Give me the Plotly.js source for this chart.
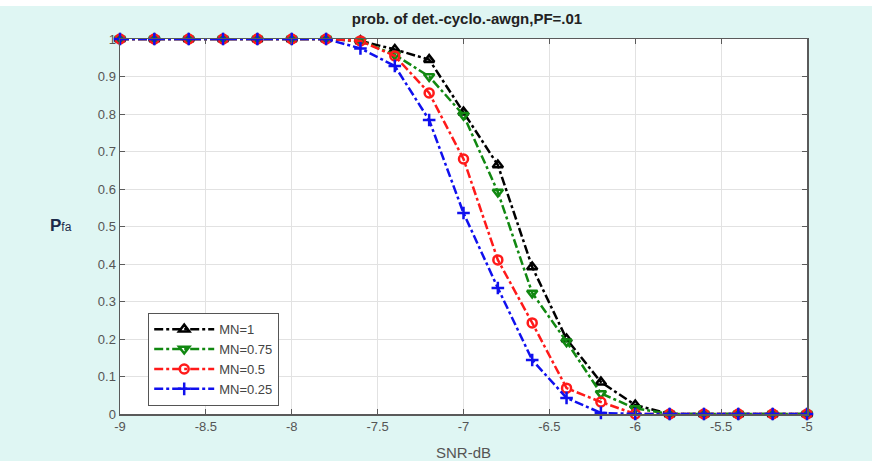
<!DOCTYPE html>
<html>
<head>
<meta charset="utf-8">
<script src="https://cdn.plot.ly/plotly-3.0.1.min.js"></script>
<style>html,body{margin:0;padding:0;background:#fff;}#chart{width:872px;height:461px;}</style>
</head>
<body>
<div id="chart"></div>
<script>
const snr = [-9, -8.8, -8.6, -8.4, -8.2, -8.0, -7.8, -7.6, -7.4, -7.2, -7.0, -6.8, -6.6, -6.4, -6.2, -6.0, -5.8, -5.6, -5.4, -5.2, -5.0];
const mn1   = [1, 1, 1, 1, 1, 1, 1, 0.995, 0.972, 0.945, 0.805, 0.664, 0.392, 0.2, 0.085, 0.024, 0, 0, 0, 0, 0];
const mn075 = [1, 1, 1, 1, 1, 1, 1, 0.995, 0.958, 0.9, 0.797, 0.592, 0.323, 0.193, 0.055, 0.015, 0, 0, 0, 0, 0];
const mn05  = [1, 1, 1, 1, 1, 1, 1, 0.995, 0.955, 0.856, 0.68, 0.411, 0.243, 0.069, 0.032, 0, 0, 0, 0, 0, 0];
const mn025 = [1, 1, 1, 1, 1, 1, 1, 0.975, 0.928, 0.784, 0.536, 0.336, 0.144, 0.043, 0.003, 0, 0, 0, 0, 0, 0];
const seriesNames = ['MN=1', 'MN=0.75', 'MN=0.5', 'MN=0.25'];
const xTicks = [-9, -8.5, -8, -7.5, -7, -6.5, -6, -5.5, -5];
const xTickText = ['-9', '-8.5', '-8', '-7.5', '-7', '-6.5', '-6', '-5.5', '-5'];
const yTicks = [0, 0.1, 0.2, 0.3, 0.4, 0.5, 0.6, 0.7, 0.8, 0.9, 1];
const yTickText = ['0', '0.1', '0.2', '0.3', '0.4', '0.5', '0.6', '0.7', '0.8', '0.9', '1'];

const styles = [
  {color: '#000000', symbol: 'triangle-up-open'},
  {color: '#118811', symbol: 'triangle-down-open'},
  {color: '#ff1a1a', symbol: 'circle-open'},
  {color: '#1010ee', symbol: 'cross-thin-open'}
];
const ys = [mn1, mn075, mn05, mn025];
const traces = ys.map((y, i) => ({
  x: snr, y: y, name: seriesNames[i], type: 'scatter', mode: 'lines+markers',
  line: {color: styles[i].color, width: 2.5, dash: 'dashdot'},
  marker: {symbol: styles[i].symbol, size: 9, color: styles[i].color, line: {color: styles[i].color, width: 2.5}},
  cliponaxis: false
}));

const axisCommon = {
  showline: true, mirror: 'ticks', linecolor: '#5a5a5a', linewidth: 1.5,
  ticks: 'inside', ticklen: 5, tickcolor: '#5a5a5a', tickwidth: 1,
  showgrid: true, gridcolor: '#e2e2e2', gridwidth: 1, zeroline: false,
  tickfont: {family: 'Arial, Liberation Sans, sans-serif', size: 13, color: '#555555'}
};

const layout = {
  width: 872, height: 461,
  margin: {l: 120, r: 65, t: 39, b: 47},
  paper_bgcolor: 'rgb(223,246,243)',
  plot_bgcolor: '#ffffff',
  title: {text: '<b>prob. of det.-cyclo.-awgn,PF=.01</b>', x: 467/872, xanchor: 'center', y: 1 - 19/461, yanchor: 'middle',
    font: {family: 'Arial, Liberation Sans, sans-serif', size: 15, color: '#222222'}},
  xaxis: Object.assign({}, axisCommon, {range: [-9, -5], tickvals: xTicks, ticktext: xTickText,
    title: {text: 'SNR-dB', standoff: 14, font: {family: 'Arial, Liberation Sans, sans-serif', size: 15, color: '#555555'}}}),
  yaxis: Object.assign({}, axisCommon, {range: [0, 1], tickvals: yTicks, ticktext: yTickText}),
  showlegend: true,
  legend: {x: 28/687, y: 1 - (313 - 39)/375, xanchor: 'left', yanchor: 'top',
    bgcolor: '#ffffff', bordercolor: '#555555', borderwidth: 1.2,
    font: {family: 'Arial, Liberation Sans, sans-serif', size: 13, color: '#444444'},
    itemwidth: 60, tracegroupgap: 0},
  shapes: [
    {type: 'rect', xref: 'paper', yref: 'paper', x0: -120/687, x1: (872 - 120)/687, y0: 1 + 33/375, y1: 1 + 39/375,
     fillcolor: '#ffffff', line: {width: 0}, layer: 'below'}
  ],
  annotations: [
    {text: '<b>P</b><span style="font-size:12px">fa</span>', xref: 'paper', yref: 'paper', x: -0.086, y: 1 - (226 - 39)/375,
     xanchor: 'center', yanchor: 'middle', showarrow: false,
     font: {family: 'Arial, Liberation Sans, sans-serif', size: 17, color: '#1c2a4a'}}
  ]
};

Plotly.newPlot('chart', traces, layout, {displayModeBar: false, staticPlot: true});
</script>
</body>
</html>
